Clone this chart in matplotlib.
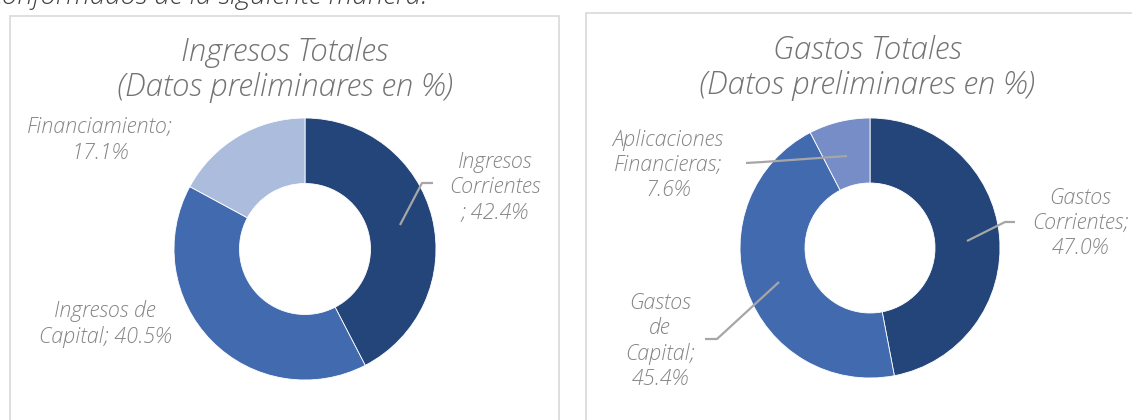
import numpy as np
import matplotlib.pyplot as plt
from matplotlib.patches import Rectangle

# data
ing_labels = ["Ingresos\nCorrientes\n; 42.4%", "Ingresos de\nCapital; 40.5%", "Financiamiento;\n17.1%"]
ing_values = [42.4, 40.5, 17.1]
gas_labels = ["Gastos\nCorrientes;\n47.0%", "Gastos\nde\nCapital;\n45.4%", "Aplicaciones\nFinancieras;\n7.6%"]
gas_values = [47.0, 45.4, 7.6]
ing_colors = ["#234579", "#426AAF", "#ABBCDD"]
gas_colors = ["#234579", "#426AAF", "#778DC7"]

W, H = 1132, 420
FONT = "Open Sans"
GREY = "#858585"
LINE = "#A6A6A6"

fig = plt.figure(figsize=(W / 100, H / 100), dpi=100)
ax = fig.add_axes([0, 0, 1, 1])


def Y(y):
    # pixel row -> data y
    return H - y


def donut(values, colors, cx, cy, r):
    ax.pie(values, colors=colors, startangle=90, counterclock=False,
           center=(cx, Y(cy)), radius=r, frame=True,
           wedgeprops=dict(width=r * 0.5, edgecolor="white", linewidth=0.6))


def label(txt, x, y, size=15.5):
    ax.text(x, Y(y), txt, ha="center", va="center", multialignment="center",
            fontsize=size, color=GREY, family=FONT, style="italic",
            fontweight="light", linespacing=1.2)


def leader(pts):
    xs = [p[0] for p in pts]
    ys = [Y(p[1]) for p in pts]
    ax.plot(xs, ys, color=LINE, lw=1.6, solid_capstyle="butt")


# panel frames
ax.add_patch(Rectangle((10, Y(430)), 549, 414, fill=False, ec="#D9D9D9", lw=1.2))
ax.add_patch(Rectangle((586, Y(430)), 560, 417, fill=False, ec="#D9D9D9", lw=1.2))

# text cut off at the top of the page
ax.text(-10, Y(4), "conformados de la siguiente manera.", ha="left", va="baseline",
        fontsize=20, color="#404040", family=FONT, style="italic", fontweight="light")

# left chart
donut(ing_values, ing_colors, 305, 249, 131)
ax.text(285, Y(70), "Ingresos Totales\n(Datos preliminares en %)", ha="center", va="center",
        fontsize=22.5, color="#737373", family=FONT, style="italic", fontweight="light",
        linespacing=1.2)
label(ing_labels[0], 495, 187)
label(ing_labels[1], 105, 324)
label(ing_labels[2], 100, 140)
leader([(400, 225), (422, 183), (433, 183)])

# right chart
donut(gas_values, gas_colors, 870, 248, 130)
ax.text(867, Y(68), "Gastos Totales\n(Datos preliminares en %)", ha="center", va="center",
        fontsize=22.5, color="#737373", family=FONT, style="italic", fontweight="light",
        linespacing=1.2)
label(gas_labels[0], 1080, 223)
label(gas_labels[1], 660, 341)
label(gas_labels[2], 668, 165)
leader([(967, 241), (1005, 222), (1015, 222)])
leader([(779, 282), (717, 339), (705, 339)])
leader([(746, 163), (763, 162), (847, 156)])

ax.set_xlim(0, W)
ax.set_ylim(0, H)
ax.axis("off")

fig.savefig("out.png", dpi=100)
